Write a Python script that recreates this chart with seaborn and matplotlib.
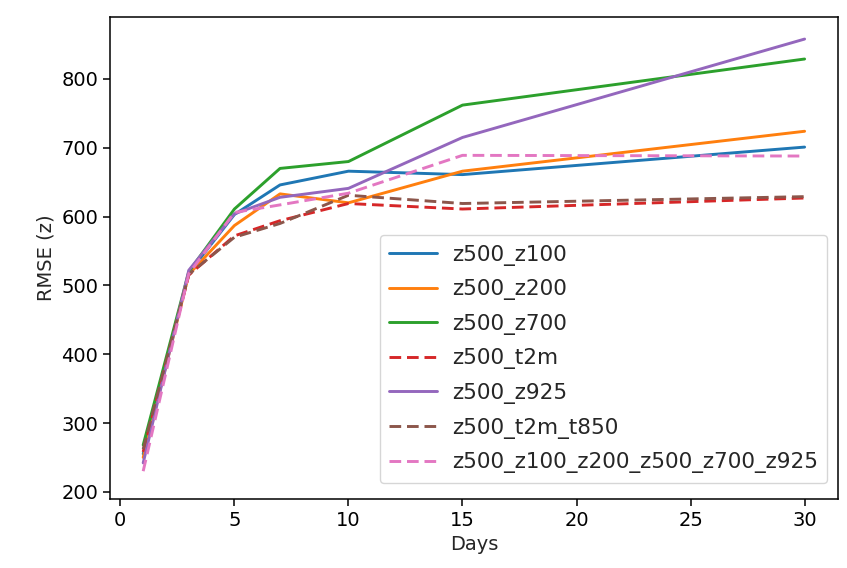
import matplotlib
matplotlib.use("Agg")
import matplotlib.pyplot as plt
import seaborn as sns
import pandas as pd

days = [1, 3, 5, 7, 10, 15, 30]
series_names = ["z500_z100", "z500_z200", "z500_z700", "z500_t2m",
                "z500_z925", "z500_t2m_t850", "z500_z100_z200_z500_z700_z925"]
z500_z100 = [255, 518, 603, 646, 666, 661, 701]
z500_z200 = [250, 516, 587, 633, 620, 666, 724]
z500_z700 = [268, 520, 611, 670, 680, 762, 829]
z500_t2m = [258, 515, 572, 594, 619, 611, 627]
z500_z925 = [242, 522, 604, 628, 641, 715, 858]
z500_t2m_t850 = [262, 516, 570, 590, 631, 619, 629]
z500_all = [230, 517, 606, 617, 634, 689, 688]
dashed = {"z500_t2m", "z500_t2m_t850", "z500_z100_z200_z500_z700_z925"}

values = [z500_z100, z500_z200, z500_z700, z500_t2m, z500_z925, z500_t2m_t850, z500_all]
rows = []
for name, vals in zip(series_names, values):
    for d, v in zip(days, vals):
        rows.append({"Days": d, "RMSE": v, "model": name})
df = pd.DataFrame(rows)

sns.set_style("ticks")
plt.rcParams.update({
    "font.family": ["DejaVu Sans"],
    "font.size": 14,
    "axes.linewidth": 1.1,
    "axes.edgecolor": "black",
    "xtick.major.size": 5,
    "ytick.major.size": 5,
    "xtick.major.width": 1.1,
    "ytick.major.width": 1.1,
})

fig = plt.figure(figsize=(8.47, 5.68), dpi=100)
ax = fig.add_axes([0.13, 0.122, 0.859, 0.848])

palette = dict(zip(series_names, sns.color_palette("tab10", 7)))
dash_map = {n: ((4, 2) if n in dashed else "") for n in series_names}
sns.lineplot(data=df, x="Days", y="RMSE", hue="model", style="model",
             hue_order=series_names, style_order=series_names,
             palette=palette, dashes=dash_map, linewidth=2.1, ax=ax)

ax.set_xlim(-0.45, 31.45)
ax.set_ylim(190, 890)
ax.set_xticks([0, 5, 10, 15, 20, 25, 30])
ax.set_yticks([200, 300, 400, 500, 600, 700, 800])
ax.tick_params(labelsize=14, colors="black")
ax.set_xlabel("Days", fontsize=14)
ax.set_ylabel("RMSE (z)", fontsize=14)

handles, labels = ax.get_legend_handles_labels()
leg = ax.legend(handles, labels, loc="lower right", fontsize=15.5,
                frameon=True, borderpad=0.45, labelspacing=0.63,
                handlelength=2.2, handletextpad=0.7, borderaxespad=0,
                bbox_to_anchor=(0.986, 0.033))
for h in leg.get_lines():
    h.set_linewidth(2.1)

fig.savefig("out.png", dpi=100)
